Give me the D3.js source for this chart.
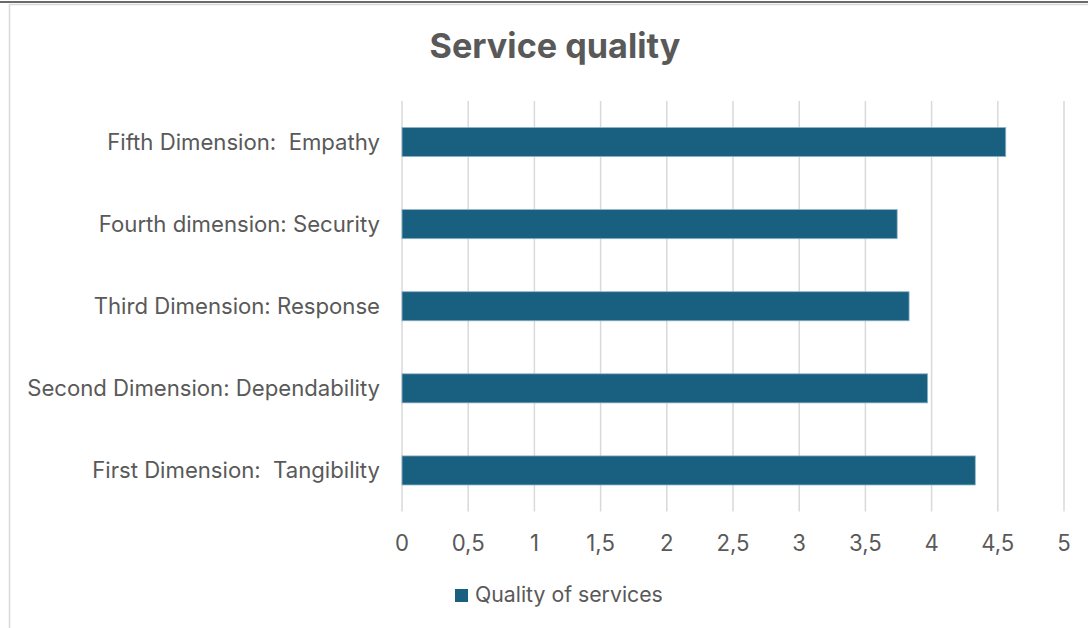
<!DOCTYPE html>
<html><head><meta charset="utf-8">
<script src="https://cdn.jsdelivr.net/npm/d3@7"></script>
<style>body{margin:0;background:#fff}svg{display:block}text{white-space:pre}</style>
</head><body>
<script>
const categories = ["Fifth Dimension:  Empathy","Fourth dimension: Security","Third Dimension: Response","Second Dimension: Dependability","First Dimension:  Tangibility"];
const values = [4.56, 3.74, 3.83, 3.97, 4.33];
const tickValues = [0,0.5,1,1.5,2,2.5,3,3.5,4,4.5,5];
const tickLabels = ["0","0,5","1","1,5","2","2,5","3","3,5","4","4,5","5"];
const seriesName = "Quality of services";
const title = "Service quality";

const W=1088,H=628;
const font = "Inter, sans-serif";
const svg=d3.select("body").append("svg").attr("width",W).attr("height",H);
// frame
svg.append("rect").attr("x",9.5).attr("y",4.5).attr("width",W+10).attr("height",H).attr("fill","none").attr("stroke","#d9d9d9").attr("stroke-width",1.5);
svg.append("line").attr("x1",0).attr("x2",W).attr("y1",2).attr("y2",2).attr("stroke","#6b6b6b").attr("stroke-width",2);

const x=d3.scaleLinear().domain([0,5]).range([402,1064]);
const y=d3.scaleBand().domain(categories).range([101,511.5]).paddingInner(0.646).paddingOuter(0.323);

function fit(sel, target){ // scale font so text width matches target
  const n=sel.node(); const w=n.getComputedTextLength(); const fs=+sel.attr("font-size");
  sel.attr("font-size", fs*target/w);
}

const t=svg.append("text").attr("x",555).attr("y",58).attr("text-anchor","middle")
  .attr("font-family",font).attr("font-weight","bold").attr("font-size",30).attr("fill","#595959").text(title);
fit(t,251);

const g=svg.append("g");
g.selectAll("line.grid").data(tickValues).join("line").attr("class","grid")
 .attr("x1",d=>x(d)).attr("x2",d=>x(d)).attr("y1",101).attr("y2",511.5)
 .attr("stroke","#d9d9d9").attr("stroke-width",1.5);

g.selectAll("rect.bar").data(values).join("rect").attr("class","bar")
 .attr("x",x(0)).attr("y",(d,i)=>y(categories[i]))
 .attr("width",d=>x(d)-x(0)).attr("height",y.bandwidth())
 .attr("fill","#185f80").attr("stroke","#8fb3c6").attr("stroke-width",0.8);

const cats=g.selectAll("text.cat").data(categories).join("text").attr("class","cat")
 .attr("x",380).attr("y",d=>y(d)+y.bandwidth()/2).attr("dy","0.35em").attr("text-anchor","end")
 .attr("font-family",font).attr("font-size",19).attr("fill","#595959").text(d=>d);
// fit based on the longest label
const longest=cats.filter((d,i)=>i===3);
const w0=longest.node().getComputedTextLength();
const fsCat=19*353/w0;
cats.attr("font-size",fsCat);

g.selectAll("text.tick").data(tickValues).join("text").attr("class","tick")
 .attr("x",d=>x(d)).attr("y",551).attr("text-anchor","middle")
 .attr("font-family",font).attr("font-size",fsCat).attr("fill","#595959").text((d,i)=>tickLabels[i]);

svg.append("rect").attr("x",455).attr("y",589).attr("width",13).attr("height",13).attr("fill","#185f80");
const lt=svg.append("text").attr("x",475).attr("y",602).attr("font-family",font).attr("font-size",20).attr("fill","#595959").text(seriesName);
fit(lt,188);
</script>
</body></html>
